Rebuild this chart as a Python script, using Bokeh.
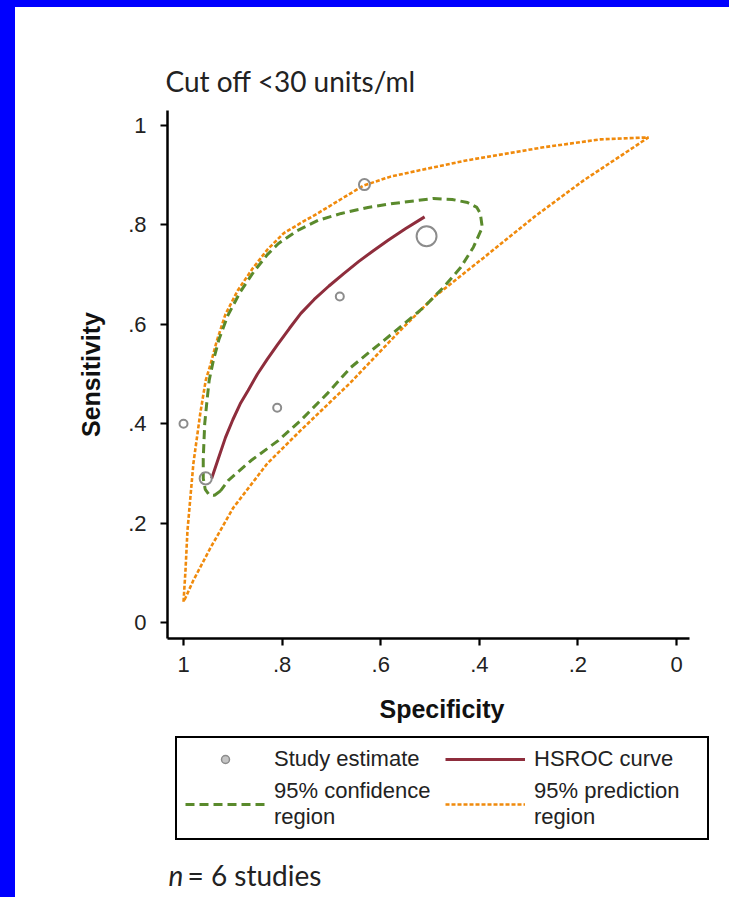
import numpy as np
from bokeh.plotting import figure
from bokeh.models import Range1d, FixedTicker, Legend, LegendItem, Label, ColumnDataSource, Spacer
from bokeh.layouts import column, row
from bokeh.embed import file_html
from bokeh.resources import INLINE

# ---------------- data ----------------
title_text = "Cut off <30 units/ml"
x_label = "Specificity"
y_label = "Sensitivity"
tick_values = [0.0, 0.2, 0.4, 0.6, 0.8, 1.0]
tick_labels = ["0", ".2", ".4", ".6", ".8", "1"]

study_spec = [1.000, 0.955, 0.810, 0.683, 0.633, 0.507]
study_sens = [0.400, 0.290, 0.432, 0.656, 0.881, 0.777]
study_weight = [1.0, 2.3, 1.0, 1.0, 1.9, 6.2]

hsroc_spec = [0.943, 0.930, 0.915, 0.900, 0.885, 0.869, 0.850, 0.830, 0.810, 0.785,
              0.762, 0.735, 0.705, 0.675, 0.645, 0.615, 0.585, 0.550, 0.511]
hsroc_sens = [0.290, 0.328, 0.372, 0.408, 0.440, 0.467, 0.500, 0.530, 0.558, 0.592,
              0.622, 0.650, 0.677, 0.702, 0.726, 0.748, 0.769, 0.792, 0.816]

conf_spec = [0.925, 0.937, 0.948, 0.956, 0.960, 0.960, 0.957, 0.952, 0.948, 0.940, 0.928,
             0.910, 0.885, 0.858, 0.830, 0.808, 0.770, 0.727, 0.680, 0.626, 0.575, 0.525,
             0.493, 0.455, 0.424, 0.405, 0.398, 0.394, 0.412, 0.438, 0.473, 0.513, 0.554,
             0.594, 0.628, 0.661, 0.708, 0.763, 0.808, 0.863, 0.909, 0.925]
conf_sens = [0.265, 0.256, 0.257, 0.268, 0.290, 0.330, 0.400, 0.450, 0.487, 0.525, 0.570,
             0.618, 0.665, 0.705, 0.740, 0.762, 0.788, 0.809, 0.823, 0.835, 0.843, 0.849,
             0.853, 0.851, 0.845, 0.835, 0.823, 0.795, 0.755, 0.714, 0.674, 0.634, 0.600,
             0.567, 0.540, 0.513, 0.461, 0.406, 0.366, 0.326, 0.286, 0.265]

pred_spec = [1.000, 0.996, 0.992, 0.980, 0.966, 0.955, 0.945, 0.933, 0.915, 0.890, 0.860,
             0.830, 0.797, 0.760, 0.728, 0.680, 0.635, 0.580, 0.525, 0.424, 0.270, 0.154,
             0.057,
             0.087, 0.189, 0.290, 0.391, 0.493, 0.560, 0.661, 0.763, 0.830, 0.899, 0.945,
             0.980, 0.996, 1.000]
pred_sens = [0.042, 0.105, 0.185, 0.320, 0.421, 0.487, 0.520, 0.565, 0.620, 0.668, 0.712,
             0.750, 0.783, 0.805, 0.823, 0.852, 0.879, 0.897, 0.909, 0.930, 0.956, 0.972,
             0.976,
             0.956, 0.889, 0.815, 0.734, 0.654, 0.588, 0.483, 0.386, 0.320, 0.231, 0.151,
             0.085, 0.050, 0.042]

legend_labels = ["Study estimate", "HSROC curve", "95% confidence\nregion", "95% prediction\nregion"]
footnote_italic = "n"
footnote_rest = "= 6 studies"

# ---------------- styles / layout ----------------
C_STUDY = "#8c8c8c"
C_HSROC = "#8e2d3c"
C_CONF = "#5a8a2c"
C_PRED = "#f08a0c"
DASH_CONF = "9 5"
DASH_PRED = "4 2"
BLUE = "#0000ff"
PAD_L, PAD_T = 15, 7
W = 729 - PAD_L
H1 = 724
H2 = 897 - PAD_T - H1
FRAME_L, FRAME_R = 167, 716          # page x of the plotting frame
FRAME_T, FRAME_B = 110, 638          # page y of the plotting frame (main plot)
X_START, X_END = 1.0325, -0.0811     # data range across that frame
X_AXIS_END = -0.0264                 # where the drawn x axis stops

# ---------------- main figure ----------------
p = figure(width=W, height=H1,
           x_range=Range1d(X_START, X_END), y_range=Range1d(-0.032, 1.030),
           output_backend="svg", toolbar_location=None,
           min_border_left=FRAME_L - PAD_L, min_border_right=729 - FRAME_R,
           min_border_top=FRAME_T - PAD_T, min_border_bottom=H1 - (FRAME_B - PAD_T),
           background_fill_color="white", border_fill_color="white", outline_line_color=None)
p.grid.visible = False

p.title.text = title_text
p.title.text_font = "Lato"
p.title.text_font_size = "28px"
p.title.text_font_style = "normal"
p.title.text_color = "#222222"
p.title.align = "left"
p.title.offset = -2
p.title.standoff = 26

ticker = FixedTicker(ticks=tick_values)
overrides = {v: s for v, s in zip(tick_values, tick_labels)}
for ax in (p.xaxis[0], p.yaxis[0]):
    ax.ticker = ticker
    ax.major_label_overrides = overrides
    ax.axis_line_width = 2.5
    ax.axis_line_color = "black"
    ax.major_tick_line_width = 2.2
    ax.major_tick_line_color = "black"
    ax.major_tick_out = 7
    ax.major_tick_in = 0
    ax.minor_tick_line_color = None
    ax.major_label_text_font = "Liberation Sans"
    ax.major_label_text_font_size = "22px"
    ax.major_label_text_color = "#222222"
    ax.axis_label_text_font = "Liberation Sans"
    ax.axis_label_text_font_size = "25px"
    ax.axis_label_text_font_style = "bold"
    ax.axis_label_text_color = "#111111"

p.xaxis.bounds = (X_AXIS_END, X_START)
p.xaxis.axis_label = x_label
p.yaxis.axis_label = y_label
p.xaxis.major_label_standoff = 11
p.yaxis.major_label_standoff = 14
p.xaxis.axis_label_standoff = 20
p.yaxis.axis_label_standoff = 20
p.yaxis.major_label_orientation = "horizontal"

p.line(pred_spec, pred_sens, line_color=C_PRED, line_width=2.6, line_dash=DASH_PRED)
p.line(conf_spec, conf_sens, line_color=C_CONF, line_width=3, line_dash=DASH_CONF)
p.line(hsroc_spec, hsroc_sens, line_color=C_HSROC, line_width=3)

src = ColumnDataSource(dict(x=study_spec, y=study_sens,
                            s=[8.0 * np.sqrt(w) for w in study_weight]))
p.scatter("x", "y", size="s", source=src, marker="circle",
          fill_alpha=0, line_color=C_STUDY, line_width=2)

# ---------------- legend + footnote figure (frame aligned with p) ----------------
q = figure(width=W, height=H2, x_range=Range1d(FRAME_L, FRAME_R), y_range=Range1d(897, 897 - H2),
           output_backend="svg", toolbar_location=None,
           x_axis_location=None, y_axis_location=None,
           min_border_left=FRAME_L - PAD_L, min_border_right=729 - FRAME_R,
           min_border_top=0, min_border_bottom=0,
           background_fill_color="white", border_fill_color="white", outline_line_color=None)
q.grid.visible = False

nan = [float("nan")]
lg_study = q.scatter(nan, nan, size=6, marker="circle", fill_color=C_STUDY, fill_alpha=0.5,
                     line_color=C_STUDY, line_width=1.5)
lg_hsroc = q.line(nan, nan, line_color=C_HSROC, line_width=3)
lg_conf = q.line(nan, nan, line_color=C_CONF, line_width=3, line_dash=DASH_CONF)
lg_pred = q.line(nan, nan, line_color=C_PRED, line_width=2.6, line_dash=DASH_PRED)

legend = Legend(items=[LegendItem(label=legend_labels[0], renderers=[lg_study]),
                       LegendItem(label=legend_labels[2], renderers=[lg_conf]),
                       LegendItem(label=legend_labels[1], renderers=[lg_hsroc]),
                       LegendItem(label=legend_labels[3], renderers=[lg_pred])],
                ncols=2, location=(175 - FRAME_L, 897 - 840),
                glyph_width=80, glyph_height=20, label_standoff=9, padding=8, spacing=6,
                label_text_font="Liberation Sans", label_text_font_size="22px",
                label_text_line_height=0.95,
                label_text_color="#222222", label_height=20, label_width=165,
                border_line_color="black", border_line_width=2.5, border_line_alpha=1.0,
                background_fill_color="white", background_fill_alpha=1.0)
q.add_layout(legend, "center")

q.add_layout(Label(x=168, y=874, text=footnote_italic, text_font="Lato",
                   text_font_style="italic", text_font_size="28px", text_baseline="middle",
                   text_color="#222222"))
q.add_layout(Label(x=187, y=874, text=footnote_rest, text_font="Lato",
                   text_font_size="28px", text_baseline="middle", text_color="#222222"))

layout = row(Spacer(width=PAD_L, height=897, styles={"background-color": BLUE}),
             column(Spacer(width=W, height=PAD_T, styles={"background-color": BLUE}), p, q))

open("out.html", "w").write(file_html(layout, INLINE))
